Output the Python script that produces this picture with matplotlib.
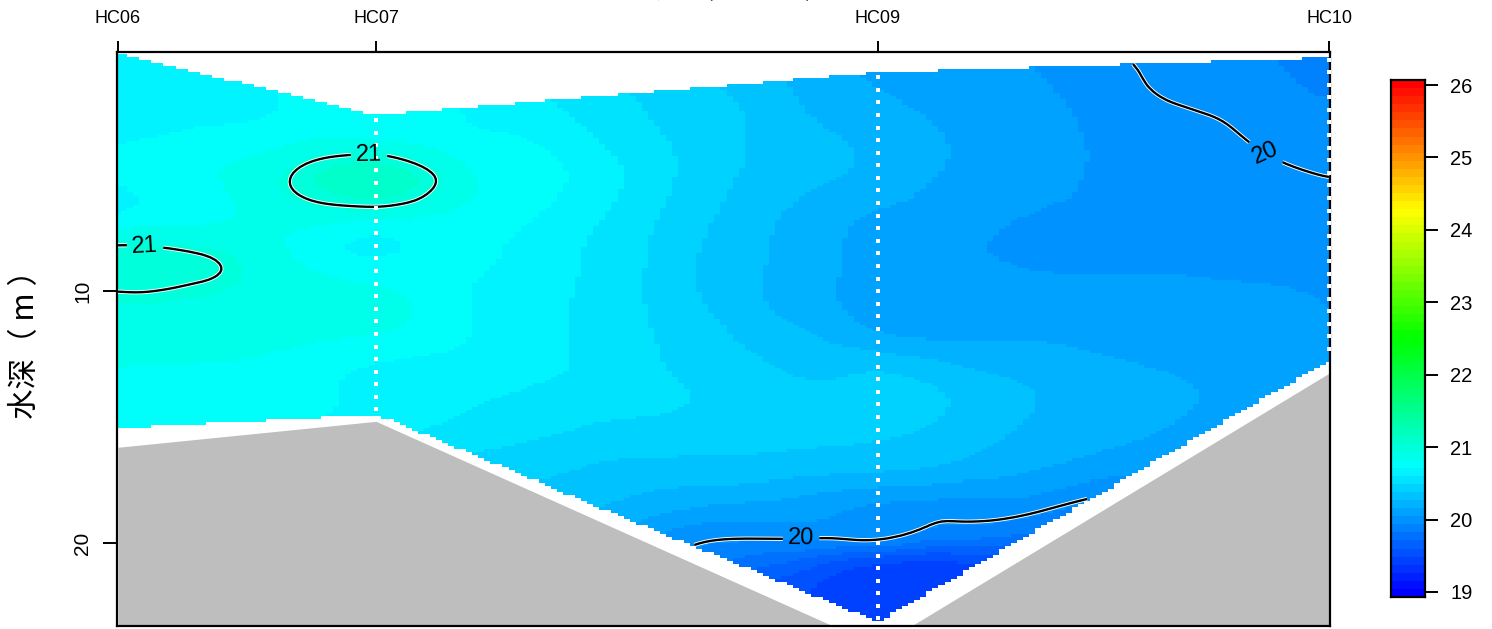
# section plot of water temperature along HC06 - HC10
import numpy as np
import matplotlib
matplotlib.use("Agg")
import matplotlib.pyplot as plt
import matplotlib.tri as mtri
import matplotlib.patheffects as pe
from matplotlib.colors import BoundaryNorm, LinearSegmentedColormap, ListedColormap

plt.rcParams['font.family'] = ['Liberation Sans', 'Noto Sans CJK SC', 'DejaVu Sans']

stations = ["HC06", "HC07", "HC09", "HC10"]
station_x = [0, 258, 760, 1211]
surface_depth = [0.55, 3.0, 1.3, 0.7]
data_bottom = [15.45, 14.9, 23.16, 12.75]
seabed_depth = [16.2, 15.17, 24.1, 13.26]
first_sample = [3.2, 1.5, 0.8]

# temperature
grid_x = [0, 82, 172, 258, 332, 412, 492, 572, 652, 712, 760, 832, 912, 992, 1082, 1152, 1211]
grid_depth = [0.5, 2.5, 4, 5.5, 7, 8.5, 10, 11.5, 13, 14.5, 16, 17.5, 19, 19.9, 20.5, 22, 23.5]
temp = [
    [20.68, 20.68, 20.70, 20.75, 20.72, 20.62, 20.50, 20.42, 20.30, 20.22, 20.17, 20.12, 20.08, 20.005, 19.99, 19.985, 19.97],
    [20.70, 20.72, 20.76, 20.80, 20.77, 20.67, 20.57, 20.47, 20.37, 20.26, 20.22, 20.17, 20.13, 20.04, 19.995, 19.99, 19.985],
    [20.74, 20.78, 20.84, 20.86, 20.80, 20.75, 20.62, 20.50, 20.39, 20.33, 20.27, 20.20, 20.14, 20.07, 20.015, 19.995, 19.99],
    [20.76, 20.84, 21.00, 21.17, 20.94, 20.80, 20.67, 20.50, 20.38, 20.32, 20.27, 20.19, 20.14, 20.07, 20.03, 20.01, 20.00],
    [20.76, 20.82, 20.90, 20.90, 20.84, 20.76, 20.63, 20.47, 20.33, 20.24, 20.19, 20.15, 20.09, 20.06, 20.04, 20.03, 20.02],
    [21.05, 21.00, 20.86, 20.74, 20.79, 20.71, 20.60, 20.44, 20.31, 20.22, 20.17, 20.12, 20.07, 20.06, 20.07, 20.06, 20.05],
    [21.00, 20.98, 20.92, 20.88, 20.78, 20.69, 20.59, 20.44, 20.30, 20.21, 20.16, 20.14, 20.13, 20.13, 20.11, 20.10, 20.085],
    [20.93, 20.94, 20.90, 20.88, 20.78, 20.69, 20.58, 20.48, 20.35, 20.27, 20.19, 20.17, 20.18, 20.17, 20.15, 20.12, 20.10],
    [20.86, 20.85, 20.82, 20.74, 20.72, 20.68, 20.59, 20.51, 20.43, 20.39, 20.40, 20.33, 20.27, 20.22, 20.18, 20.13, 20.11],
    [20.82, 20.80, 20.78, 20.72, 20.67, 20.60, 20.56, 20.53, 20.47, 20.45, 20.47, 20.42, 20.32, 20.26, 20.20, 20.14, 20.11],
    [20.82, 20.78, 20.74, 20.66, 20.58, 20.53, 20.48, 20.46, 20.44, 20.43, 20.42, 20.37, 20.28, 20.22, 20.15, 20.10, 20.08],
    [20.80, 20.75, 20.70, 20.60, 20.50, 20.43, 20.37, 20.34, 20.32, 20.28, 20.26, 20.22, 20.17, 20.08, 20.05, 20.00, 19.98],
    [20.75, 20.70, 20.65, 20.55, 20.45, 20.33, 20.26, 20.14, 20.11, 20.09, 20.07, 20.01, 19.98, 19.92, 19.90, 19.90, 19.90],
    [20.72, 20.65, 20.55, 20.45, 20.35, 20.25, 20.15, 20.02, 19.99, 19.98, 20.00, 19.86, 19.80, 19.80, 19.80, 19.80, 19.80],
    [20.70, 20.60, 20.50, 20.40, 20.30, 20.20, 20.10, 19.97, 19.85, 19.75, 19.68, 19.62, 19.62, 19.60, 19.60, 19.60, 19.60],
    [20.60, 20.50, 20.40, 20.30, 20.20, 20.10, 20.00, 19.80, 19.62, 19.52, 19.48, 19.50, 19.52, 19.52, 19.52, 19.52, 19.52],
    [20.50, 20.40, 20.30, 20.20, 20.10, 20.00, 19.90, 19.70, 19.55, 19.48, 19.46, 19.48, 19.50, 19.50, 19.50, 19.50, 19.50],
]

bar_ticks = [19, 20, 21, 22, 23, 24, 25, 26]
depth_ticks = [10, 20]
contour_levels = [20, 21]
label_spots = [(251, 4.79), (27, 8.29), (1148, 4.47), (683, 19.74)]


def soften(z):
    # light smoothing so the contour lines are not wobbly, both directions
    kernel = np.array([1, 2, 3, 2, 1]) / 9
    for axis in (0, 1):
        pad = [(2, 2) if a == axis else (0, 0) for a in (0, 1)]
        z = np.apply_along_axis(lambda v: np.convolve(v, kernel, mode='valid'), axis, np.pad(z, pad, mode='edge'))
    return z


n_colors = 64
ramp = LinearSegmentedColormap.from_list("ramp", ["blue", "cyan", "lime", "yellow", "red"], N=n_colors)
band_colors = ListedColormap([ramp(i) for i in range(n_colors)])
levels = np.linspace(19, 26, n_colors + 1)
norm = BoundaryNorm(levels, n_colors)

W, H = 1492, 629
fig = plt.figure(figsize=(W / 100, H / 100), dpi=100)
ax = fig.add_axes([117 / W, 1 - 626 / H, (1330 - 117) / W, (626 - 52) / H])

# the section is gridded in cells like the original, then cut to the water column
gx, gy = np.meshgrid(grid_x, grid_depth)
tri = mtri.Triangulation(gx.ravel(), gy.ravel())
interp = mtri.CubicTriInterpolator(tri, np.array(temp).ravel(), kind='min_E')

xf = np.linspace(0, 1211, 201)
yf = np.arange(0.5, 23.5, 0.12)
xx, yy = np.meshgrid(xf, yf)
field = soften(np.ma.filled(interp(xx, yy), 20.0))
top = np.interp(xx, station_x, surface_depth)
low = np.interp(xx, station_x, data_bottom)
field = np.ma.masked_where((yy < top) | (yy > low), field)

ax.pcolormesh(xx, yy, field, cmap=band_colors, norm=norm, shading='nearest', zorder=1)

ax.fill_between(station_x, seabed_depth, 30, color='#BEBEBE', lw=0, zorder=2)

cs = ax.contour(xx, yy, field, levels=contour_levels, colors='black', linewidths=1.7, zorder=3)
cs.set_path_effects([pe.withStroke(linewidth=3.0, foreground='white')])
ax.clabel(cs, fmt='%d', fontsize=17, manual=label_spots, inline=True, inline_spacing=5)

for sx, start, end in zip(station_x[1:], first_sample, data_bottom[1:]):
    ds = np.arange(start, end, 0.5)
    ax.scatter([sx] * len(ds), ds, s=5, marker='s', color='white', linewidths=0, zorder=4)

ax.set_xlim(-1, 1212)
ax.set_ylim(23.3, 0.5)
for s in ax.spines.values():
    s.set_linewidth(1.6)

ax.xaxis.tick_top()
ax.set_xticks(station_x)
ax.set_xticklabels(stations, fontsize=13)
ax.tick_params(axis='x', length=8, width=1.4, pad=10)
ax.set_yticks(depth_ticks)
ax.set_yticklabels([str(d) for d in depth_ticks], rotation=90, va='center', fontsize=15)
ax.tick_params(axis='y', length=10, width=1.4, pad=8)

fig.text(26 / W, 1 - 337 / H, "水深（ m ）", rotation=90, ha='center', va='center',
         fontsize=22, family=['Noto Sans CJK SC', 'DejaVu Sans'])
fig.text(730 / W, 1.003, "水温（　℃　）", ha='center', va='baseline',
         fontsize=21.5, family=['Noto Sans CJK SC', 'DejaVu Sans'])

# colour bar
cax = fig.add_axes([1391 / W, 1 - 597 / H, (1425 - 1391) / W, (597 - 80) / H])
bar_edges = np.linspace(18.93, 26.07, n_colors + 1)
cax.pcolormesh([0, 1], bar_edges, np.arange(n_colors).reshape(-1, 1), cmap=band_colors,
               vmin=-0.5, vmax=n_colors - 0.5)
cax.set_ylim(18.93, 26.07)
cax.set_xticks([])
cax.yaxis.tick_right()
cax.set_yticks(bar_ticks)
cax.set_yticklabels([str(t) for t in bar_ticks], fontsize=14.5)
cax.tick_params(axis='y', length=9, width=1.4, pad=9)
for s in cax.spines.values():
    s.set_linewidth(1.6)

fig.savefig("out.png", dpi=100)
